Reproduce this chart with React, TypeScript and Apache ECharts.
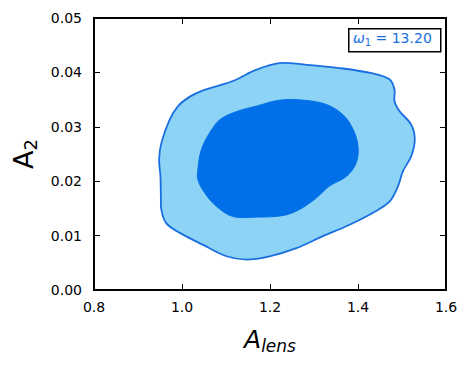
import React, { useEffect, useRef } from "react";
import * as echarts from "echarts";

const xTicks = [0.8, 1.0, 1.2, 1.4, 1.6];
const yTicks = [0.0, 0.01, 0.02, 0.03, 0.04, 0.05];

// 95% contour (outer), [A_lens, A_2]
const outerContour: number[][] = [
  [0.948, 0.0240], [0.953, 0.0270], [0.972, 0.0313], [0.991, 0.0338],
  [1.017, 0.0355], [1.048, 0.0367], [1.093, 0.0378], [1.124, 0.0387],
  [1.169, 0.0405], [1.222, 0.0417], [1.283, 0.0414], [1.358, 0.0408],
  [1.434, 0.0398], [1.472, 0.0387], [1.483, 0.0368], [1.483, 0.0347],
  [1.495, 0.0328], [1.521, 0.0304], [1.529, 0.0276], [1.521, 0.0246],
  [1.502, 0.0218], [1.491, 0.0191], [1.472, 0.0163], [1.434, 0.0142],
  [1.381, 0.0120], [1.320, 0.0099], [1.260, 0.0077], [1.199, 0.0062],
  [1.146, 0.0056], [1.101, 0.0062], [1.048, 0.0083], [0.995, 0.0105],
  [0.964, 0.0123], [0.953, 0.0148], [0.952, 0.0172], [0.951, 0.0209],
];

// 68% contour (inner)
const innerContour: number[][] = [
  [1.036, 0.0221], [1.044, 0.0258], [1.063, 0.0289], [1.086, 0.0313],
  [1.124, 0.0328], [1.169, 0.0338], [1.222, 0.0349], [1.275, 0.0349],
  [1.328, 0.0341], [1.366, 0.0322], [1.389, 0.0295], [1.400, 0.0264],
  [1.396, 0.0234], [1.374, 0.0209], [1.335, 0.0191], [1.305, 0.0169],
  [1.267, 0.0148], [1.230, 0.0137], [1.169, 0.0134], [1.116, 0.0135],
  [1.078, 0.0154], [1.052, 0.0178], [1.036, 0.0203],
];

const legendLabel = { symbol: "ω", sub: "1", value: "13.20" };

const FONT = "DejaVu Sans";
const EDGE = "#1a6fe0";

function contourSeries(points: number[][], fill: string, stroke: string, lw: number, z: number) {
  return {
    type: "custom",
    coordinateSystem: "cartesian2d",
    xAxisIndex: 0,
    yAxisIndex: 0,
    clip: true,
    z,
    silent: true,
    data: points,
    renderItem: (params: any, api: any) => {
      if (params.dataIndex !== 0) return null;
      const pts = points.map((p) => api.coord(p));
      return {
        type: "polygon",
        shape: { points: pts, smooth: 0.35 },
        style: { fill, stroke, lineWidth: lw },
      };
    },
  };
}

export default function App() {
  const ref = useRef<HTMLDivElement>(null);
  useEffect(() => {
    if (!ref.current) return;
    const chart = echarts.init(ref.current, undefined, { renderer: "svg" });
    const axisCommon = {
      type: "value",
      axisLine: { show: true, onZero: false, lineStyle: { color: "#000", width: 2 } },
      axisTick: { show: true, inside: true, length: 6, lineStyle: { color: "#000", width: 1 } },
      splitLine: { show: false },
    };
    chart.setOption({
      animation: false,
      backgroundColor: "#fff",
      grid: { left: 94, right: 24, top: 18, bottom: 75 },
      xAxis: [
        {
          ...axisCommon,
          min: xTicks[0],
          max: xTicks[xTicks.length - 1],
          interval: 0.2,
          position: "bottom",
          axisLabel: {
            color: "#000",
            fontFamily: FONT,
            fontSize: 14,
            margin: 10,
            formatter: (v: number) => v.toFixed(1),
          },
          name: "{a|A}{s|lens}",
          nameLocation: "middle",
          nameGap: 34,
          nameTextStyle: {
            rich: {
              a: { fontFamily: FONT, fontStyle: "italic", fontSize: 25, color: "#000", lineHeight: 30, verticalAlign: "middle" },
              s: { fontFamily: FONT, fontStyle: "italic", fontSize: 17, color: "#000", lineHeight: 14, verticalAlign: "bottom" },
            },
          },
        },
        {
          ...axisCommon,
          min: xTicks[0],
          max: xTicks[xTicks.length - 1],
          interval: 0.2,
          position: "top",
          axisLabel: { show: false },
        },
      ],
      yAxis: [
        {
          ...axisCommon,
          min: yTicks[0],
          max: yTicks[yTicks.length - 1],
          interval: 0.01,
          position: "left",
          axisLabel: {
            color: "#000",
            fontFamily: FONT,
            fontSize: 14,
            margin: 12,
            formatter: (v: number) => v.toFixed(2),
          },
          name: "{a|A}{s|2}",
          nameLocation: "middle",
          nameRotate: 90,
          nameGap: 50,
          nameTextStyle: {
            rich: {
              a: { fontFamily: FONT, fontSize: 27, color: "#000", lineHeight: 32, verticalAlign: "middle" },
              s: { fontFamily: FONT, fontSize: 18, color: "#000", lineHeight: 12, verticalAlign: "bottom" },
            },
          },
        },
        {
          ...axisCommon,
          min: yTicks[0],
          max: yTicks[yTicks.length - 1],
          interval: 0.01,
          position: "right",
          axisLabel: { show: false },
        },
      ],
      series: [
        contourSeries(outerContour, "#8dd3f5", EDGE, 1.8, 2),
        contourSeries(innerContour, "#006fe8", "#006fe8", 1, 3),
      ],
      graphic: [
        {
          type: "rect",
          left: 348,
          top: 28,
          shape: { width: 92, height: 23 },
          style: { fill: "#fff", stroke: "#000", lineWidth: 1.5 },
          z: 10,
        },
        {
          type: "text",
          left: 353,
          top: 31,
          z: 11,
          style: {
            text: `{w|${legendLabel.symbol}}{s|${legendLabel.sub}}{t| = ${legendLabel.value}}`,
            rich: {
              w: { fontFamily: FONT, fontStyle: "italic", fontSize: 14, fill: EDGE, lineHeight: 18, verticalAlign: "middle" },
              s: { fontFamily: FONT, fontSize: 10, fill: EDGE, lineHeight: 9, verticalAlign: "bottom" },
              t: { fontFamily: FONT, fontSize: 14, fill: EDGE, lineHeight: 18, verticalAlign: "middle" },
            },
          },
        },
      ],
    });
    return () => chart.dispose();
  }, []);
  return <div ref={ref} style={{ width: 470, height: 365, position: "absolute", left: 0, top: 0 }} />;
}
